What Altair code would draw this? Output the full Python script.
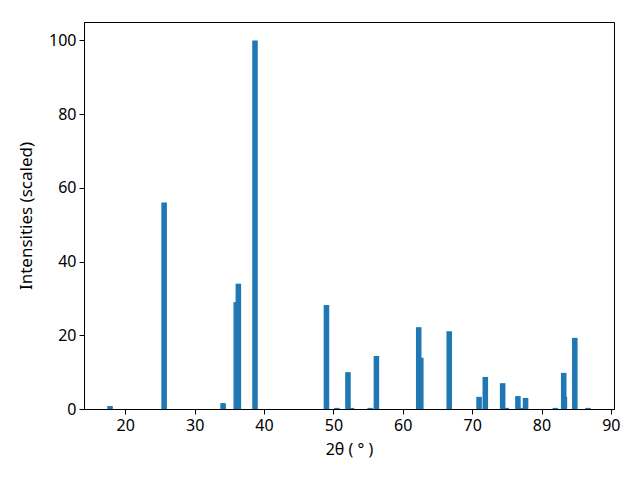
import altair as alt
import pandas as pd

two_theta = [17.8, 25.6, 34.1, 36.0, 36.3, 38.7, 49.0, 50.5, 52.1, 52.6, 55.3, 56.2,
             62.3, 62.6, 66.7, 71.0, 71.9, 74.4, 74.9, 76.6, 77.1, 77.7, 82.0, 83.3, 83.2,
             84.8, 86.7]
intensity = [0.8, 56.0, 1.6, 29.0, 34.0, 100.0, 28.2, 0.3, 10.0, 0.3, 0.3, 14.4,
             22.2, 13.9, 21.1, 3.3, 8.7, 7.0, 0.3, 3.5, 0.3, 3.0, 0.3, 3.3, 9.8,
             19.3, 0.3]

df = pd.DataFrame({"t": two_theta, "i": intensity})
bar_w = 0.8

chart = alt.Chart(df).transform_calculate(
    x0=f"datum.t - {bar_w/2}", x1=f"datum.t + {bar_w/2}"
).mark_rect(color="#1f77b4").encode(
    x=alt.X("x0:Q", scale=alt.Scale(domain=[14.05, 90.45], nice=False, zero=False),
            axis=alt.Axis(values=[20, 30, 40, 50, 60, 70, 80, 90], title="2θ ( ° )")),
    x2="x1:Q",
    y=alt.Y("i:Q", scale=alt.Scale(domain=[0, 105], nice=False),
            axis=alt.Axis(values=[0, 20, 40, 60, 80, 100], title="Intensities (scaled)",
                          titleFontSize=17, titlePadding=13)),
    y2=alt.datum(0),
).properties(
    width=530, height=387,
    autosize=alt.AutoSizeParams(type="none"),
    padding={"left": 76, "top": 14, "right": 18, "bottom": 63},
).configure_view(
    stroke="black", strokeWidth=1
).configure_axis(
    grid=False, domainColor="black", tickColor="black", tickSize=5,
    labelFont="Noto Sans", titleFont="Noto Sans", labelFontSize=16, titleFontSize=16,
    labelColor="black", titleColor="black", titleFontWeight="normal", labelPadding=3,
).configure_axisX(titlePadding=8)

chart.save("out.html", embed_options={"renderer": "svg", "actions": False})
